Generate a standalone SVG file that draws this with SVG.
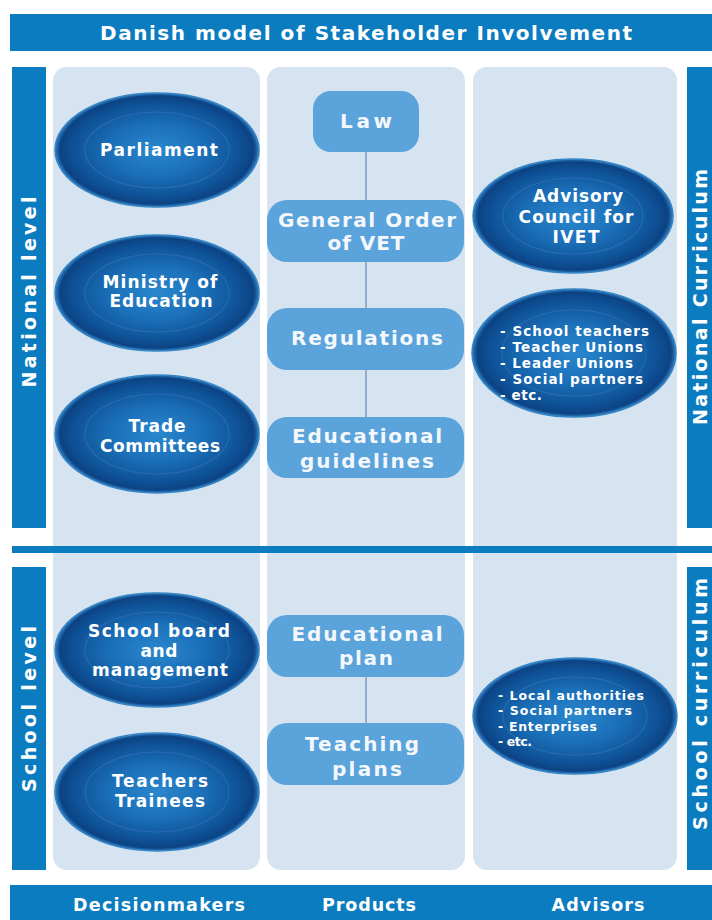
<svg xmlns="http://www.w3.org/2000/svg" width="712" height="920" viewBox="0 0 712 920">
<defs>
<radialGradient id="eg" cx="50%" cy="50%" r="50%">
<stop offset="0" stop-color="#2a87ce"/>
<stop offset="0.45" stop-color="#1b70b9"/>
<stop offset="0.8" stop-color="#0f5399"/>
<stop offset="0.95" stop-color="#0b4384"/>
<stop offset="1" stop-color="#2f7fc2"/>
</radialGradient>
<style>
.bar{fill:#0b7cc0}
.panel{fill:#d6e3f0}
.box{fill:#5ba3db}
.ell{fill:url(#eg);stroke:#3585c6;stroke-width:1.5}
.ring{fill:none;stroke:#7ab6e6;stroke-opacity:0.18;stroke-width:1.2}
.t{font-family:"DejaVu Sans","Liberation Sans",sans-serif;font-weight:bold;fill:#ffffff;text-anchor:middle}
.tb{font-family:"DejaVu Sans","Liberation Sans",sans-serif;font-weight:bold;fill:#f4f8fc;text-anchor:middle}
.tl{font-family:"DejaVu Sans","Liberation Sans",sans-serif;font-weight:bold;fill:#ffffff;text-anchor:start}
.conn{stroke:#7d9dc0;stroke-width:1.5;fill:none}
</style>
</defs>
<rect width="712" height="920" fill="#ffffff"/>

<g id="frame">
<rect class="panel" x="53" y="67" width="207" height="803" rx="14"/>
<rect class="panel" x="267" y="67" width="198" height="803" rx="14"/>
<rect class="panel" x="473" y="67" width="204" height="803" rx="14"/>
<rect class="bar" x="10" y="14" width="702" height="37"/>
<text class="t" x="366" y="40" font-size="20" textLength="532" lengthAdjust="spacing">Danish model of Stakeholder Involvement</text>
<rect class="bar" x="12" y="546" width="700" height="7"/>
<rect class="bar" x="10" y="885" width="702" height="35"/>
<text class="t" x="159" y="911" font-size="17.5" textLength="172" lengthAdjust="spacing">Decisionmakers</text>
<text class="t" x="369" y="911" font-size="17.5" textLength="94" lengthAdjust="spacing">Products</text>
<text class="t" x="598" y="911" font-size="17.5" textLength="93" lengthAdjust="spacing">Advisors</text>
</g>

<g id="national-level">
<rect class="bar" x="12" y="67" width="34" height="461"/>
<text class="t" font-size="19" transform="translate(36,292) rotate(-90)" textLength="191" lengthAdjust="spacing">National level</text>
</g>
<g id="school-level">
<rect class="bar" x="12" y="567" width="34" height="303"/>
<text class="t" font-size="19" transform="translate(36,709) rotate(-90)" textLength="166" lengthAdjust="spacing">School level</text>
</g>
<g id="national-curriculum">
<rect class="bar" x="687" y="67" width="25" height="461"/>
<text class="t" font-size="19" transform="translate(707,297) rotate(-90)" textLength="256" lengthAdjust="spacing">National Curriculum</text>
</g>
<g id="school-curriculum">
<rect class="bar" x="687" y="567" width="25" height="303"/>
<text class="t" font-size="19" transform="translate(707,704) rotate(-90)" textLength="252" lengthAdjust="spacing">School curriculum</text>
</g>

<g id="connectors">
<line class="conn" x1="366" y1="152" x2="366" y2="200"/>
<line class="conn" x1="366" y1="262" x2="366" y2="308"/>
<line class="conn" x1="366" y1="370" x2="366" y2="417"/>
<line class="conn" x1="366" y1="677" x2="366" y2="723"/>
</g>

<g id="parliament">
<ellipse class="ell" cx="157" cy="150" rx="102" ry="57"/>
<ellipse class="ring" cx="157" cy="150" rx="72" ry="38"/>
<text class="t" x="159" y="156" font-size="17" textLength="118" lengthAdjust="spacing">Parliament</text>
</g>
<g id="ministry">
<ellipse class="ell" cx="157" cy="293" rx="102" ry="58"/>
<ellipse class="ring" cx="157" cy="293" rx="72" ry="39"/>
<text class="t" x="160" y="288" font-size="17" textLength="115" lengthAdjust="spacing">Ministry of</text>
<text class="t" x="161" y="307" font-size="17" textLength="103" lengthAdjust="spacing">Education</text>
</g>
<g id="trade-committees">
<ellipse class="ell" cx="157" cy="434" rx="102" ry="59"/>
<ellipse class="ring" cx="157" cy="434" rx="72" ry="40"/>
<text class="t" x="157" y="432" font-size="17" textLength="57" lengthAdjust="spacing">Trade</text>
<text class="t" x="160" y="452" font-size="17" textLength="120" lengthAdjust="spacing">Committees</text>
</g>
<g id="school-board">
<ellipse class="ell" cx="157" cy="650" rx="102" ry="57"/>
<ellipse class="ring" cx="157" cy="650" rx="72" ry="38"/>
<text class="t" x="159" y="637" font-size="17" textLength="142" lengthAdjust="spacing">School board</text>
<text class="t" x="159" y="657" font-size="17" textLength="37" lengthAdjust="spacing">and</text>
<text class="t" x="160" y="676" font-size="17" textLength="136" lengthAdjust="spacing">management</text>
</g>
<g id="teachers-trainees">
<ellipse class="ell" cx="157" cy="792" rx="102" ry="59"/>
<ellipse class="ring" cx="157" cy="792" rx="72" ry="40"/>
<text class="t" x="160" y="787" font-size="17" textLength="96" lengthAdjust="spacing">Teachers</text>
<text class="t" x="160" y="807" font-size="17" textLength="90" lengthAdjust="spacing">Trainees</text>
</g>

<g id="law">
<rect class="box" x="313" y="91" width="106" height="61" rx="18"/>
<text class="tb" x="366" y="128" font-size="20" textLength="52" lengthAdjust="spacing">Law</text>
</g>
<g id="general-order">
<rect class="box" x="267" y="200" width="197" height="62" rx="20"/>
<text class="tb" x="367" y="227" font-size="20" textLength="178" lengthAdjust="spacing">General Order</text>
<text class="tb" x="366" y="250" font-size="20" textLength="77" lengthAdjust="spacing">of VET</text>
</g>
<g id="regulations">
<rect class="box" x="267" y="308" width="197" height="62" rx="20"/>
<text class="tb" x="367" y="345" font-size="20" textLength="152" lengthAdjust="spacing">Regulations</text>
</g>
<g id="educational-guidelines">
<rect class="box" x="267" y="417" width="197" height="61" rx="20"/>
<text class="tb" x="367" y="443" font-size="20" textLength="150" lengthAdjust="spacing">Educational</text>
<text class="tb" x="367" y="468" font-size="20" textLength="134" lengthAdjust="spacing">guidelines</text>
</g>
<g id="educational-plan">
<rect class="box" x="267" y="615" width="197" height="62" rx="20"/>
<text class="tb" x="367" y="641" font-size="20" textLength="151" lengthAdjust="spacing">Educational</text>
<text class="tb" x="366" y="665" font-size="20" textLength="54" lengthAdjust="spacing">plan</text>
</g>
<g id="teaching-plans">
<rect class="box" x="267" y="723" width="197" height="62" rx="20"/>
<text class="tb" x="362" y="751" font-size="20" textLength="114" lengthAdjust="spacing">Teaching</text>
<text class="tb" x="367" y="776" font-size="20" textLength="70" lengthAdjust="spacing">plans</text>
</g>

<g id="advisory-council">
<ellipse class="ell" cx="573" cy="216" rx="100" ry="57"/>
<ellipse class="ring" cx="573" cy="216" rx="70" ry="38"/>
<text class="t" x="578" y="202" font-size="17" textLength="90" lengthAdjust="spacing">Advisory</text>
<text class="t" x="576" y="223" font-size="17" textLength="115" lengthAdjust="spacing">Council for</text>
<text class="t" x="576" y="243" font-size="17" textLength="47" lengthAdjust="spacing">IVET</text>
</g>
<g id="national-advisors">
<ellipse class="ell" cx="574" cy="353" rx="102" ry="64"/>
<ellipse class="ring" cx="574" cy="353" rx="72" ry="43"/>
<text class="tl" x="500" y="336" font-size="13.5" textLength="149" lengthAdjust="spacing">- School teachers</text>
<text class="tl" x="500" y="352" font-size="13.5" textLength="143" lengthAdjust="spacing">- Teacher Unions</text>
<text class="tl" x="500" y="368" font-size="13.5" textLength="133" lengthAdjust="spacing">- Leader Unions</text>
<text class="tl" x="500" y="384" font-size="13.5" textLength="143" lengthAdjust="spacing">- Social partners</text>
<text class="tl" x="500" y="400" font-size="13.5" textLength="42" lengthAdjust="spacing">- etc.</text>
</g>
<g id="school-advisors">
<ellipse class="ell" cx="575" cy="716" rx="102" ry="58"/>
<ellipse class="ring" cx="575" cy="716" rx="72" ry="39"/>
<text class="tl" x="498" y="700" font-size="12.5" textLength="146" lengthAdjust="spacing">- Local authorities</text>
<text class="tl" x="498" y="715" font-size="12.5" textLength="134" lengthAdjust="spacing">- Social partners</text>
<text class="tl" x="498" y="731" font-size="12.5" textLength="99" lengthAdjust="spacing">- Enterprises</text>
<text class="tl" x="498" y="746" font-size="12.5" textLength="34" lengthAdjust="spacing">- etc.</text>
</g>
</svg>
